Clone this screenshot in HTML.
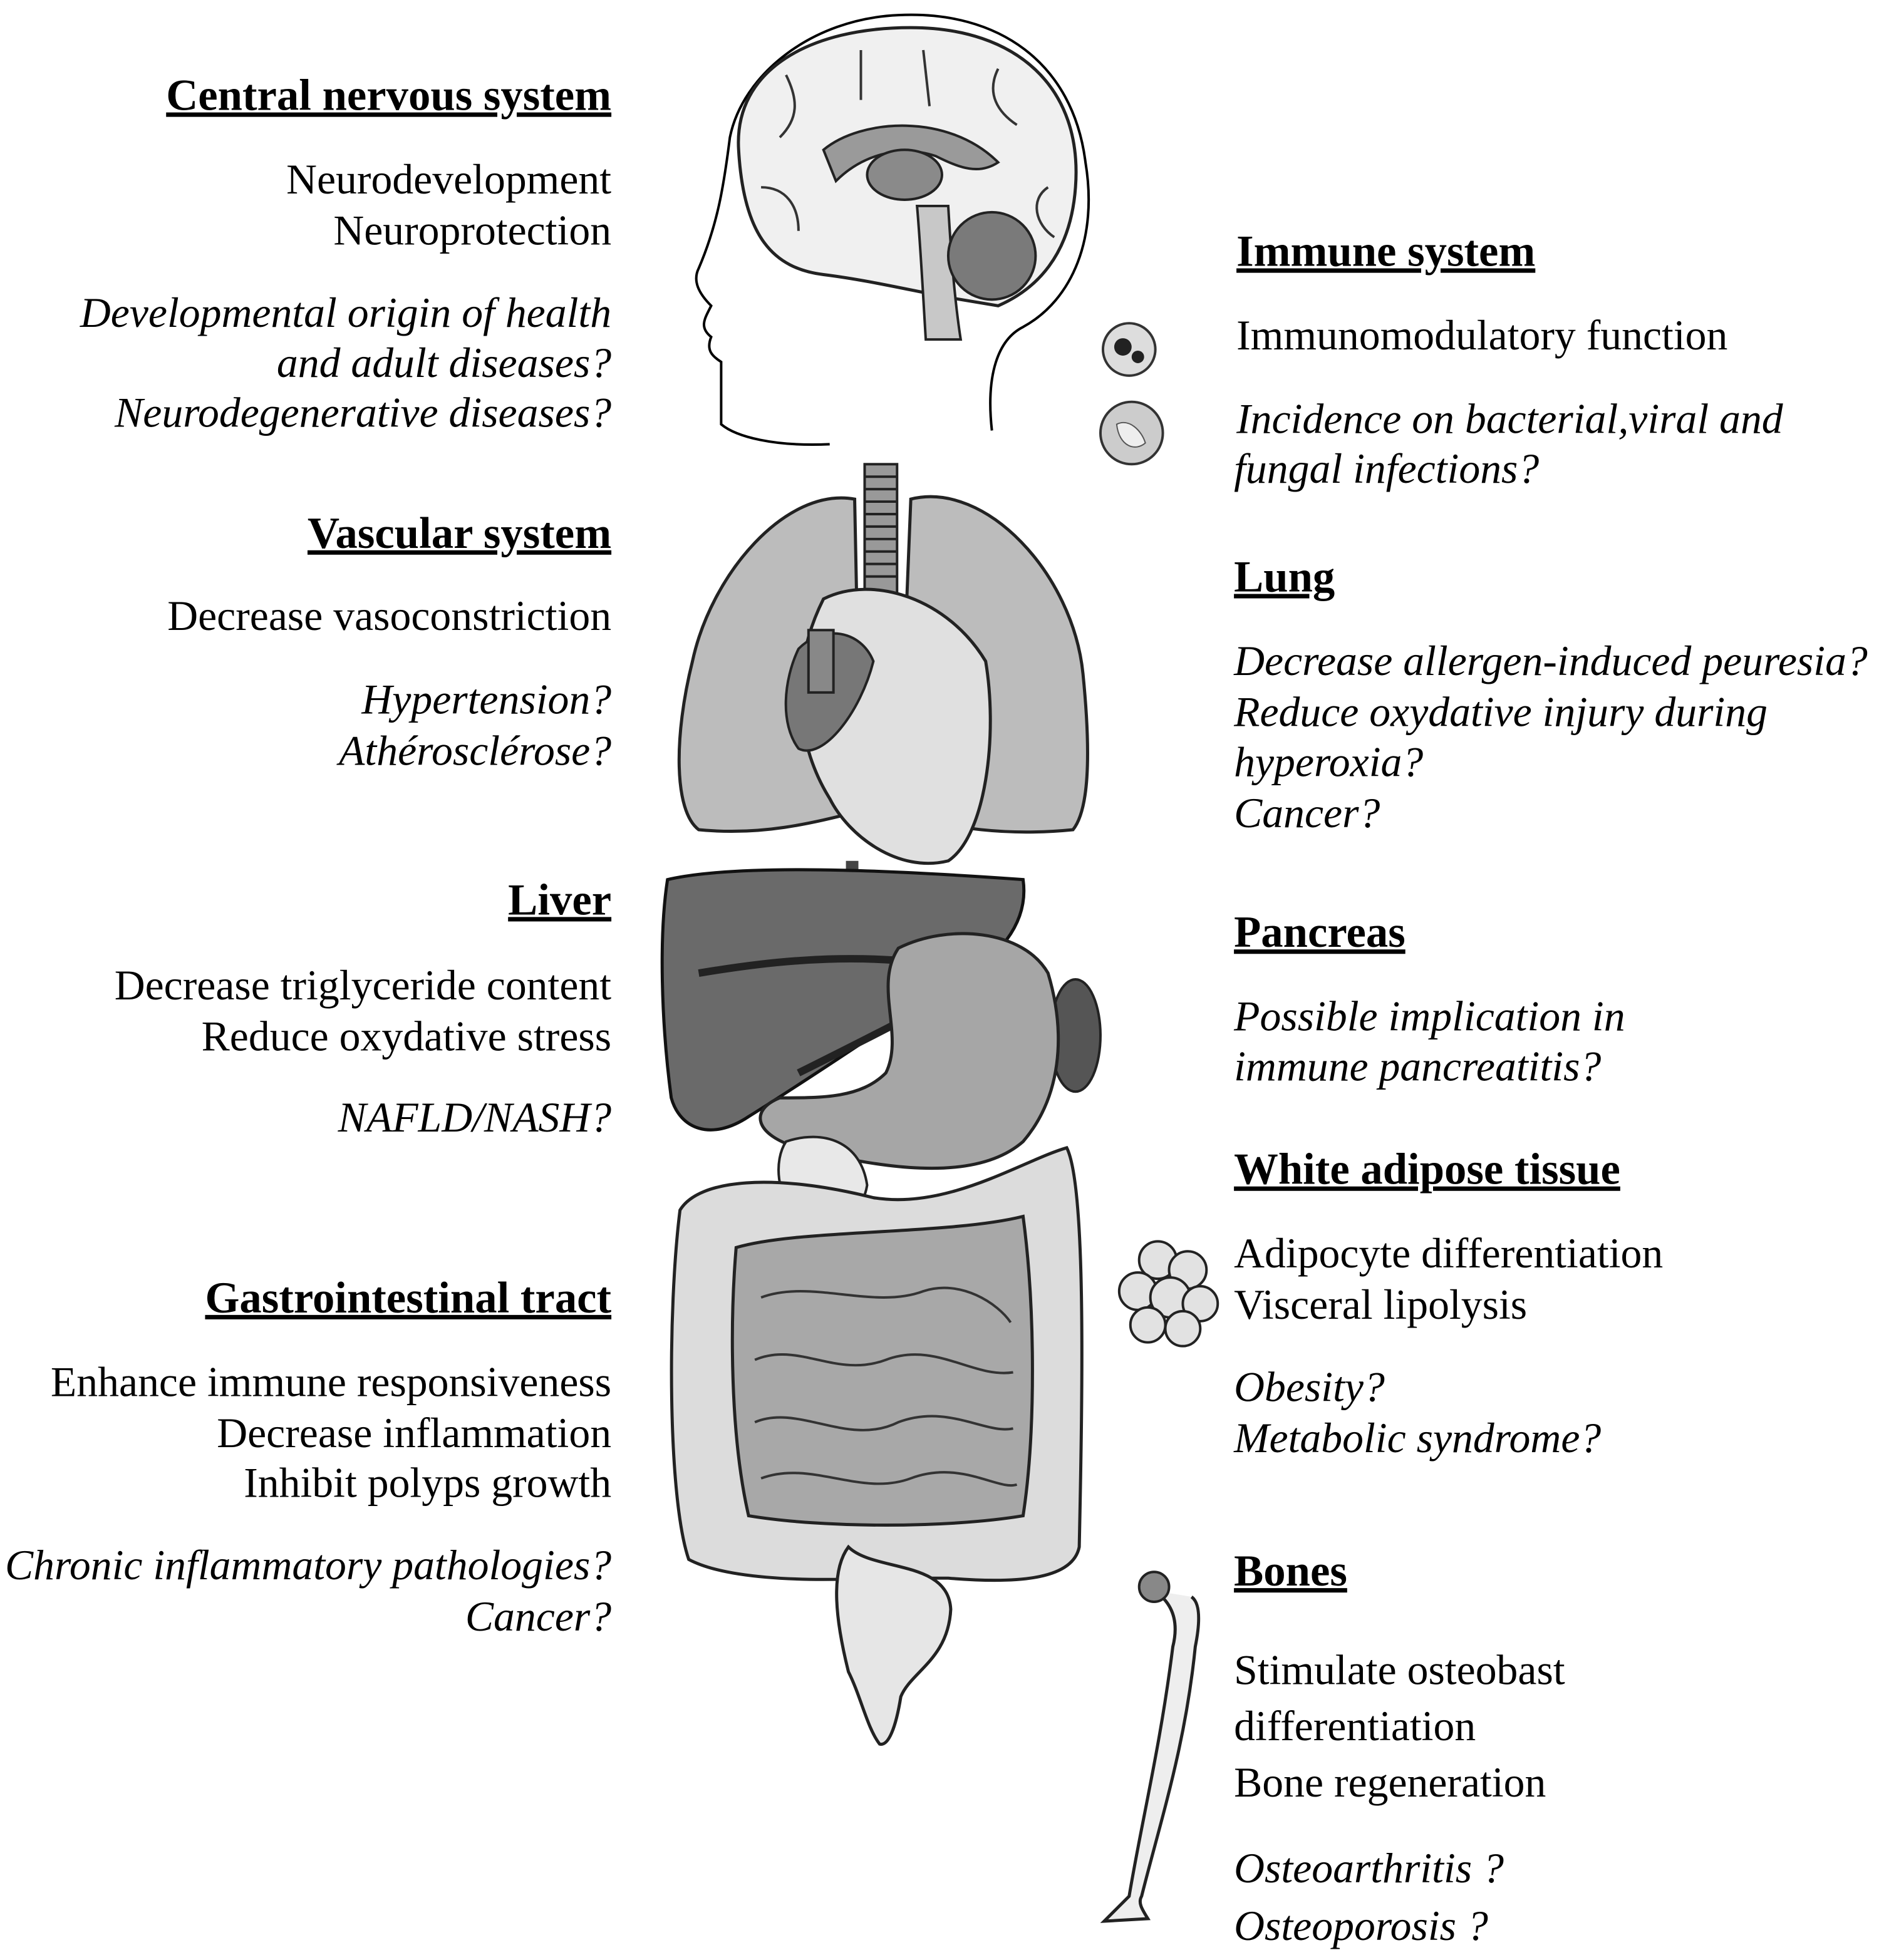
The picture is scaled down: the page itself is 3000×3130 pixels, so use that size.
<!DOCTYPE html>
<html><head><meta charset="utf-8"><style>
html,body{margin:0;padding:0;background:#fff;}
svg{display:block}
text{font-family:"Liberation Serif",serif;font-size:34px;fill:#000}
.h{font-weight:bold;text-decoration:underline;font-size:35.5px}
.i{font-style:italic}
.l{text-anchor:end}
</style></head><body>
<svg width="3000" height="3130" viewBox="0 0 1506 1571" xmlns="http://www.w3.org/2000/svg">
<!-- head outline -->
<path d="M665 356 C620 358 590 350 578 340 L578 290 C570 285 566 280 570 270 C560 262 565 255 570 245 C560 235 555 225 560 215 C575 180 580 150 585 110 C595 60 650 15 720 12 C800 8 860 50 870 130 C880 190 860 240 820 262 C800 272 790 300 795 345" fill="none" stroke="#000" stroke-width="2"/>
<!-- brain -->
<path d="M592 120 C588 55 650 22 730 22 C815 22 868 70 862 150 C858 205 830 232 800 245 L770 240 C740 235 700 225 660 220 C620 215 596 190 592 120Z" fill="#f0f0f0" stroke="#222" stroke-width="2.5"/>
<g fill="none" stroke="#333" stroke-width="2">
<path d="M630 60 C640 80 640 95 625 110"/><path d="M690 40 L690 80"/><path d="M740 40 L745 85"/><path d="M800 55 C790 75 800 90 815 100"/><path d="M610 150 C630 150 640 165 640 185"/><path d="M840 150 C825 160 830 180 845 190"/>
</g>
<path d="M660 120 C690 95 760 90 800 130 C785 140 770 135 750 125 C720 115 690 125 670 145Z" fill="#9a9a9a" stroke="#222" stroke-width="2"/>
<ellipse cx="725" cy="140" rx="30" ry="20" fill="#8a8a8a" stroke="#222" stroke-width="2"/>
<path d="M735 165 L760 165 C762 200 765 240 770 272 L742 272 C740 240 738 200 735 165Z" fill="#c8c8c8" stroke="#222" stroke-width="2"/>
<circle cx="795" cy="205" r="35" fill="#7a7a7a" stroke="#222" stroke-width="2"/>
<!-- cells -->
<circle cx="905" cy="280" r="21" fill="#ddd" stroke="#333" stroke-width="2"/>
<circle cx="900" cy="278" r="7" fill="#222"/><circle cx="912" cy="286" r="5" fill="#222"/>
<circle cx="907" cy="347" r="25" fill="#ccc" stroke="#333" stroke-width="2"/>
<path d="M895 340 C905 335 915 345 918 355 C910 362 897 358 895 340Z" fill="#eee" stroke="#555"/>
<!-- trachea -->
<rect x="693" y="372" width="26" height="120" fill="#999" stroke="#222" stroke-width="2"/>
<g stroke="#222" stroke-width="2"><line x1="693" y1="382" x2="719" y2="382"/><line x1="693" y1="392" x2="719" y2="392"/><line x1="693" y1="402" x2="719" y2="402"/><line x1="693" y1="412" x2="719" y2="412"/><line x1="693" y1="422" x2="719" y2="422"/><line x1="693" y1="432" x2="719" y2="432"/><line x1="693" y1="442" x2="719" y2="442"/><line x1="693" y1="452" x2="719" y2="452"/><line x1="693" y1="462" x2="719" y2="462"/></g>
<!-- lungs -->
<path d="M685 400 C630 390 570 460 555 530 C540 590 540 650 560 665 C610 670 650 660 690 650 Z" fill="#bcbcbc" stroke="#222" stroke-width="2.5"/>
<path d="M730 400 C790 385 860 460 868 540 C875 610 872 650 860 665 C810 670 760 665 720 650 Z" fill="#bcbcbc" stroke="#222" stroke-width="2.5"/>
<line x1="683" y1="690" x2="683" y2="780" stroke="#444" stroke-width="10"/>
<!-- heart -->
<path d="M660 480 C700 460 760 480 790 530 C800 590 790 670 760 690 C720 700 680 670 665 640 C640 600 630 540 660 480Z" fill="#e0e0e0" stroke="#222" stroke-width="2.5"/>
<path d="M640 520 C660 500 690 505 700 530 C690 570 660 610 640 600 C625 580 628 545 640 520Z" fill="#777" stroke="#222" stroke-width="2"/>
<rect x="648" y="505" width="20" height="50" fill="#888" stroke="#222" stroke-width="2"/>
<!-- liver -->
<path d="M535 705 C600 690 750 700 820 705 C825 740 800 770 760 790 C700 830 640 870 600 895 C570 915 545 905 538 880 C530 820 528 750 535 705Z" fill="#6a6a6a" stroke="#111" stroke-width="2.5"/>
<path d="M560 780 C620 770 700 760 790 780 C760 800 700 830 640 860" fill="none" stroke="#222" stroke-width="6"/>
<!-- stomach / pancreas -->
<ellipse cx="862" cy="830" rx="20" ry="45" fill="#555" stroke="#222" stroke-width="2"/>
<path d="M720 760 C760 740 820 745 840 780 C855 830 850 880 820 915 C780 950 700 935 640 920 C605 910 600 890 625 880 C660 880 690 880 710 860 C725 830 700 790 720 760Z" fill="#a6a6a6" stroke="#222" stroke-width="2.5"/>
<path d="M630 915 C660 905 690 915 695 950 C690 980 660 990 640 975 C622 960 620 930 630 915Z" fill="#e8e8e8" stroke="#222" stroke-width="2"/>
<!-- colon -->
<path d="M545 970 C560 945 620 940 700 960 C760 970 820 930 855 920 C870 950 868 1100 865 1240 C860 1265 820 1270 760 1265 L700 1265 C640 1268 580 1265 552 1250 C535 1200 535 1050 545 970Z" fill="#dcdcdc" stroke="#222" stroke-width="2.5"/>
<path d="M590 1000 C640 985 760 990 820 975 C830 1050 830 1150 820 1215 C760 1225 660 1225 600 1215 C585 1150 585 1060 590 1000Z" fill="#a8a8a8" stroke="#222" stroke-width="2.5"/>
<g fill="none" stroke="#333" stroke-width="2">
<path d="M610 1040 C650 1025 700 1050 740 1035 C770 1025 800 1045 810 1060"/>
<path d="M605 1090 C640 1075 670 1105 710 1090 C750 1075 780 1105 812 1100"/>
<path d="M605 1140 C640 1125 680 1160 720 1140 C760 1125 790 1150 812 1145"/>
<path d="M610 1185 C650 1170 690 1200 730 1185 C770 1170 800 1195 815 1190"/>
</g>
<!-- rectum -->
<path d="M680 1240 C700 1260 760 1250 762 1290 C760 1330 730 1340 722 1360 C718 1385 712 1400 705 1398 C695 1385 690 1360 680 1340 C670 1300 665 1260 680 1240Z" fill="#e6e6e6" stroke="#222" stroke-width="2.5"/>
<!-- adipose -->
<g fill="#e2e2e2" stroke="#222" stroke-width="2">
<circle cx="928" cy="1010" r="15"/><circle cx="952" cy="1018" r="15"/><circle cx="912" cy="1035" r="15"/><circle cx="938" cy="1040" r="16"/><circle cx="962" cy="1045" r="14"/><circle cx="920" cy="1062" r="14"/><circle cx="948" cy="1065" r="14"/>
</g>
<!-- bone -->
<path d="M925 1275 C940 1285 945 1300 940 1320 C930 1400 915 1460 905 1520 C895 1530 890 1535 885 1540 L920 1538 C915 1530 912 1525 915 1520 C930 1460 950 1400 958 1320 C962 1300 962 1285 955 1280" fill="#eee" stroke="#222" stroke-width="2.5"/>
<circle cx="925" cy="1272" r="12" fill="#888" stroke="#222" stroke-width="2"/>
<!-- left text -->
<text x="490" y="88" class="h l">Central nervous system</text>
<text x="490" y="155" class="l">Neurodevelopment</text>
<text x="490" y="196" class="l">Neuroprotection</text>
<text x="490" y="262" class="i l">Developmental origin of health</text>
<text x="490" y="302" class="i l">and adult diseases?</text>
<text x="490" y="342" class="i l">Neurodegenerative diseases?</text>
<text x="490" y="439" class="h l">Vascular system</text>
<text x="490" y="505" class="l">Decrease vasoconstriction</text>
<text x="490" y="572" class="i l">Hypertension?</text>
<text x="490" y="613" class="i l">Athérosclérose?</text>
<text x="490" y="733" class="h l">Liver</text>
<text x="490" y="801" class="l">Decrease triglyceride content</text>
<text x="490" y="842" class="l">Reduce oxydative stress</text>
<text x="490" y="907" class="i l">NAFLD/NASH?</text>
<text x="490" y="1052" class="h l">Gastrointestinal tract</text>
<text x="490" y="1119" class="l">Enhance immune responsiveness</text>
<text x="490" y="1160" class="l">Decrease inflammation</text>
<text x="490" y="1200" class="l">Inhibit polyps growth</text>
<text x="490" y="1266" class="i l">Chronic inflammatory pathologies?</text>
<text x="490" y="1307" class="i l">Cancer?</text>
<!-- right text -->
<text x="991" y="213" class="h">Immune system</text>
<text x="991" y="280">Immunomodulatory function</text>
<text x="991" y="347" class="i">Incidence on bacterial,viral and</text>
<text x="989" y="387" class="i">fungal infections?</text>
<text x="989" y="474" class="h">Lung</text>
<text x="989" y="541" class="i">Decrease allergen-induced peuresia?</text>
<text x="989" y="582" class="i">Reduce oxydative injury during</text>
<text x="989" y="622" class="i">hyperoxia?</text>
<text x="989" y="663" class="i">Cancer?</text>
<text x="989" y="759" class="h">Pancreas</text>
<text x="989" y="826" class="i">Possible implication in</text>
<text x="989" y="866" class="i">immune pancreatitis?</text>
<text x="989" y="949" class="h">White adipose tissue</text>
<text x="989" y="1016">Adipocyte differentiation</text>
<text x="989" y="1057">Visceral lipolysis</text>
<text x="989" y="1123" class="i">Obesity?</text>
<text x="989" y="1164" class="i">Metabolic syndrome?</text>
<text x="989" y="1271" class="h">Bones</text>
<text x="989" y="1350">Stimulate osteobast</text>
<text x="989" y="1395">differentiation</text>
<text x="989" y="1440">Bone regeneration</text>
<text x="989" y="1509" class="i">Osteoarthritis ?</text>
<text x="989" y="1555" class="i">Osteoporosis ?</text>
</svg>
</body></html>
